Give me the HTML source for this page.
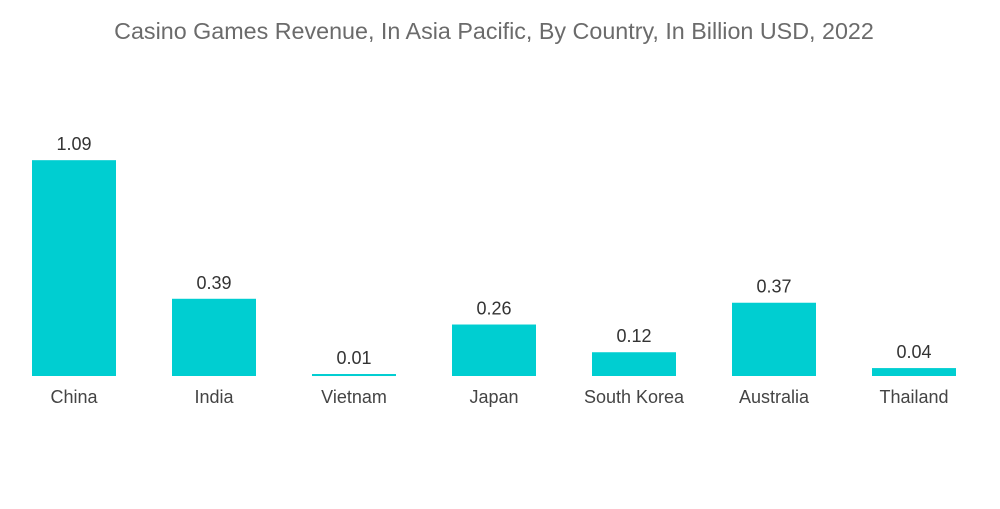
<!DOCTYPE html>
<html><head><meta charset="utf-8"><style>
body{margin:0;background:#fff;width:1000px;height:504px;overflow:hidden;font-family:"Liberation Sans",sans-serif}
</style></head><body>
<svg id="chart" width="1000" height="504">
<text x="494" y="39" text-anchor="middle" font-size="23.3" fill="#6b6b6b">Casino Games Revenue, In Asia Pacific, By Country, In Billion USD, 2022</text>
<g id="bars"></g>
</svg>
<script>
const categories=["China","India","Vietnam","Japan","South Korea","Australia","Thailand"];
const values=[1.09,0.39,0.01,0.26,0.12,0.37,0.04];
const valueLabels=["1.09","0.39","0.01","0.26","0.12","0.37","0.04"];
const baseY=376, pxPerUnit=198, firstCenter=74, step=140, barW=84;
const xScale=i=>firstCenter+i*step;
const yScale=v=>baseY-v*pxPerUnit;
const g=document.getElementById('bars');
const ns="http://www.w3.org/2000/svg";
categories.forEach((c,i)=>{
  const r=document.createElementNS(ns,'rect');
  const y=yScale(values[i]);
  r.setAttribute('x',xScale(i)-barW/2);
  r.setAttribute('y',y);
  r.setAttribute('width',barW);
  r.setAttribute('height',Math.max(baseY-y,2));
  r.setAttribute('fill','#00ced1');
  
  
  g.appendChild(r);
  const t=document.createElementNS(ns,'text');
  t.setAttribute('x',xScale(i));
  t.setAttribute('y',Math.min(y,baseY-2)-10);
  t.setAttribute('text-anchor','middle');
  t.setAttribute('font-size','18');
  t.setAttribute('fill','#333');
  t.textContent=valueLabels[i];
  
  
  g.appendChild(t);
  const l=document.createElementNS(ns,'text');
  l.setAttribute('x',xScale(i));
  l.setAttribute('y',403);
  l.setAttribute('text-anchor','middle');
  l.setAttribute('font-size','18');
  l.setAttribute('fill','#444');
  l.textContent=c;
  
  
  g.appendChild(l);
});
</script>
</body></html>
